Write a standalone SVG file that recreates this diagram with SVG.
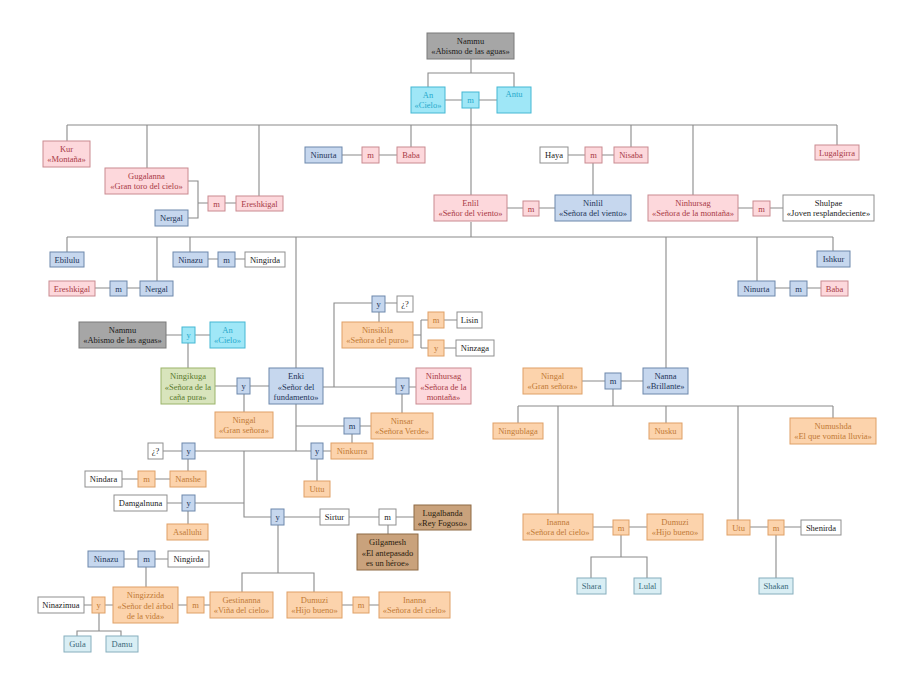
<svg xmlns="http://www.w3.org/2000/svg" width="912" height="684" viewBox="0 0 912 684">
<style>
text{font-family:"Liberation Serif","Times New Roman",serif;font-size:8.5px;text-anchor:middle}
rect{stroke-width:1}
.pk rect{fill:#fdd8dc;stroke:#c98a90}.pk text{fill:#a83a46}
.bl rect{fill:#c6d7ee;stroke:#6d87ab}.bl text{fill:#1e3558}
.cy rect{fill:#9fe7f7;stroke:#45b7d3}.cy text{fill:#27a9cc}
.or rect{fill:#fcd3ac;stroke:#dfa066}.or text{fill:#c17a36}
.wh rect{fill:#fff;stroke:#8f8f8f}.wh text{fill:#222}
.gr rect{fill:#a6a6a6;stroke:#7a7a7a}.gr text{fill:#1a1a1a}
.gn rect{fill:#d8e4bc;stroke:#9bb46a}.gn text{fill:#5a7a2e}
.br rect{fill:#c9a27c;stroke:#8e6a45}.br text{fill:#2a1c0e}
.lb rect{fill:#d9eef4;stroke:#86aebd}.lb text{fill:#3b6a7a}
#connectors path{fill:none;stroke:#8a8a8a;stroke-width:1.1}
</style>
<rect width="912" height="684" fill="#fff"/>
<g id="connectors">
<path d="M471,59V73M428,87V73H514V87M445,100H462M479,100H497M471,108V195"/>
<path d="M67,125H837M67,125V141M147,125V168M259,125V196M411,125V147M631,125V147M693,125V195M837,125V145"/>
<path d="M188,181H198V218H188M198,203H208M225,203H236"/>
<path d="M342,155H362M379,155H397M568,155H585M602,155H614M593,163V195"/>
<path d="M507,208H523M539,208H555M738,208H753M770,208H783M471,222V237"/>
<path d="M67,237H833M67,237V252M157,237V281M190,237V252M296,237V368M666,237V368M757,237V281M833,237V251"/>
<path d="M95,288H110M127,288H140M208,259H218M235,259H245M775,288H790M807,288H821"/>
<path d="M166,335H182M195,335H210M188,343V368M215,386H237M250,386H269M244,394V412"/>
<path d="M323,387H396M334,387V303H372M385,303H397M379,312V322M409,387H416M402,394V413"/>
<path d="M413,335H421M421,320V348M421,320H428M421,348H428M444,320H457M444,348H456"/>
<path d="M296,404V451M296,426H344M360,426H371M352,434V443M195,451H311M323,451H331M317,459V481"/>
<path d="M163,451H182M188,459V471M122,479H138M155,479H170M167,503H182M195,503H244M188,511V524M244,451V517H271"/>
<path d="M284,517H320M349,517H379M396,517H414M388,525V534M278,525V573M242,592V573H314V592M342,605H353M369,605H379"/>
<path d="M178,605H187M204,605H210M124,559H138M155,559H168M146,567V587M84,605H92M105,605H113M99,613V631M77,636V631H121V636"/>
<path d="M582,381H605M621,381H643M613,389V406M518,406H833M518,406V423M558,406V514M666,406V423M738,406V520M833,406V418"/>
<path d="M593,527H613M629,527H647M621,535V557M591,578V557H647V578M750,527H768M784,527H801M776,535V578"/>
</g>
<g id="nammu1" class="gr"><rect x="427" y="33" width="87" height="26"/><text x="470.5" y="44">Nammu</text><text x="470.5" y="54">«Abismo de las  aguas»</text></g>
<g id="an1" class="cy"><rect x="411" y="87" width="34" height="26"/><text x="428" y="98">An</text><text x="428" y="108">«Cielo»</text></g>
<g id="m_an" class="cy"><rect x="462" y="92" width="17" height="16"/><text x="470.5" y="103">m</text></g>
<g id="antu" class="cy"><rect x="497" y="87" width="34" height="26"/><text x="514" y="97">Antu</text></g>
<g id="kur" class="pk"><rect x="43" y="141" width="47" height="26"/><text x="66.5" y="152">Kur</text><text x="66.5" y="162">«Montaña»</text></g>
<g id="gugalanna" class="pk"><rect x="105" y="168" width="83" height="26"/><text x="146.5" y="179">Gugalanna</text><text x="146.5" y="189">«Gran toro del cielo»</text></g>
<g id="nergal1" class="bl"><rect x="155" y="210" width="33" height="16"/><text x="171.5" y="221">Nergal</text></g>
<g id="m_ere" class="pk"><rect x="208" y="196" width="17" height="15"/><text x="216.5" y="206.5">m</text></g>
<g id="ereshkigal1" class="pk"><rect x="236" y="196" width="47" height="15"/><text x="259.5" y="206.5">Ereshkigal</text></g>
<g id="ninurta1" class="bl"><rect x="305" y="147" width="37" height="16"/><text x="323.5" y="158">Ninurta</text></g>
<g id="m_baba1" class="pk"><rect x="362" y="147" width="17" height="16"/><text x="370.5" y="158">m</text></g>
<g id="baba1" class="pk"><rect x="397" y="147" width="28" height="16"/><text x="411" y="158">Baba</text></g>
<g id="haya" class="wh"><rect x="540" y="147" width="28" height="16"/><text x="554" y="158">Haya</text></g>
<g id="m_haya" class="pk"><rect x="585" y="147" width="17" height="16"/><text x="593.5" y="158">m</text></g>
<g id="nisaba" class="pk"><rect x="614" y="147" width="34" height="16"/><text x="631" y="158">Nisaba</text></g>
<g id="lugalgirra" class="pk"><rect x="815" y="145" width="44" height="15"/><text x="837" y="155.5">Lugalgirra</text></g>
<g id="enlil" class="pk"><rect x="434" y="195" width="73" height="26"/><text x="470.5" y="206">Enlil</text><text x="470.5" y="216">«Señor del viento»</text></g>
<g id="m_enlil" class="pk"><rect x="523" y="201" width="16" height="15"/><text x="531" y="211.5">m</text></g>
<g id="ninlil" class="bl"><rect x="555" y="195" width="76" height="26"/><text x="593" y="206">Ninlil</text><text x="593" y="216">«Señora del viento»</text></g>
<g id="ninhursag1" class="pk"><rect x="648" y="195" width="90" height="26"/><text x="693" y="206">Ninhursag</text><text x="693" y="216">«Señora de la  montaña»</text></g>
<g id="m_ninhursag1" class="pk"><rect x="753" y="201" width="17" height="15"/><text x="761.5" y="211.5">m</text></g>
<g id="shulpae" class="wh"><rect x="783" y="195" width="91" height="26"/><text x="828.5" y="206">Shulpae</text><text x="828.5" y="216">«Joven resplandeciente»</text></g>
<g id="ebilulu" class="bl"><rect x="50" y="252" width="34" height="15"/><text x="67" y="262.5">Ebilulu</text></g>
<g id="ereshkigal2" class="pk"><rect x="49" y="281" width="46" height="15"/><text x="72" y="291.5">Ereshkigal</text></g>
<g id="m_nergal2" class="bl"><rect x="110" y="281" width="17" height="15"/><text x="118.5" y="291.5">m</text></g>
<g id="nergal2" class="bl"><rect x="140" y="281" width="33" height="15"/><text x="156.5" y="291.5">Nergal</text></g>
<g id="ninazu1" class="bl"><rect x="173" y="252" width="35" height="15"/><text x="190.5" y="262.5">Ninazu</text></g>
<g id="m_ninazu1" class="bl"><rect x="218" y="252" width="17" height="15"/><text x="226.5" y="262.5">m</text></g>
<g id="ningirda1" class="wh"><rect x="245" y="252" width="40" height="15"/><text x="265" y="262.5">Ningirda</text></g>
<g id="ishkur" class="bl"><rect x="817" y="251" width="33" height="16"/><text x="833.5" y="262">Ishkur</text></g>
<g id="ninurta2" class="bl"><rect x="738" y="281" width="37" height="15"/><text x="756.5" y="291.5">Ninurta</text></g>
<g id="m_ninurta2" class="bl"><rect x="790" y="281" width="17" height="15"/><text x="798.5" y="291.5">m</text></g>
<g id="baba2" class="pk"><rect x="821" y="281" width="27" height="15"/><text x="834.5" y="291.5">Baba</text></g>
<g id="nammu2" class="gr"><rect x="79" y="322" width="87" height="26"/><text x="122.5" y="333">Nammu</text><text x="122.5" y="343">«Abismo de las  aguas»</text></g>
<g id="y_nammu2" class="cy"><rect x="182" y="327" width="13" height="16"/><text x="188.5" y="338">y</text></g>
<g id="an2" class="cy"><rect x="210" y="322" width="35" height="26"/><text x="227.5" y="333">An</text><text x="227.5" y="343">«Cielo»</text></g>
<g id="ningikuga" class="gn"><rect x="161" y="368" width="54" height="36"/><text x="188" y="379">Ningikuga</text><text x="188" y="389.5">«Señora de la</text><text x="188" y="400">caña pura»</text></g>
<g id="y_ningikuga" class="bl"><rect x="237" y="378" width="13" height="16"/><text x="243.5" y="389">y</text></g>
<g id="enki" class="bl"><rect x="269" y="368" width="54" height="36"/><text x="296" y="379">Enki</text><text x="296" y="389.5">«Señor del</text><text x="296" y="400">fundamento»</text></g>
<g id="ningal1" class="or"><rect x="215" y="412" width="58" height="26"/><text x="244" y="423">Ningal</text><text x="244" y="433">«Gran señora»</text></g>
<g id="y_q1" class="bl"><rect x="372" y="296" width="13" height="16"/><text x="378.5" y="307">y</text></g>
<g id="q1" class="wh"><rect x="397" y="296" width="16" height="16"/><text x="405" y="307">¿?</text></g>
<g id="ninsikila" class="or"><rect x="342" y="322" width="71" height="26"/><text x="377.5" y="333">Ninsikila</text><text x="377.5" y="343">«Señora del puro»</text></g>
<g id="m_lisin" class="or"><rect x="428" y="312" width="16" height="16"/><text x="436" y="323">m</text></g>
<g id="lisin" class="wh"><rect x="457" y="312" width="25" height="16"/><text x="469.5" y="323">Lisin</text></g>
<g id="y_ninzaga" class="or"><rect x="428" y="340" width="16" height="16"/><text x="436" y="351">y</text></g>
<g id="ninzaga" class="wh"><rect x="456" y="340" width="38" height="16"/><text x="475" y="351">Ninzaga</text></g>
<g id="y_ninhursag2" class="bl"><rect x="396" y="378" width="13" height="16"/><text x="402.5" y="389">y</text></g>
<g id="ninhursag2" class="pk"><rect x="416" y="368" width="55" height="36"/><text x="443.5" y="379">Ninhursag</text><text x="443.5" y="389.5">«Señora de la</text><text x="443.5" y="400">montaña»</text></g>
<g id="m_ninsar" class="bl"><rect x="344" y="418" width="16" height="16"/><text x="352" y="429">m</text></g>
<g id="ninsar" class="or"><rect x="371" y="413" width="62" height="26"/><text x="402" y="424">Ninsar</text><text x="402" y="434">«Señora Verde»</text></g>
<g id="y_ninkurra" class="bl"><rect x="311" y="443" width="12" height="16"/><text x="317" y="454">y</text></g>
<g id="ninkurra" class="or"><rect x="331" y="443" width="42" height="16"/><text x="352" y="454">Ninkurra</text></g>
<g id="uttu" class="or"><rect x="304" y="481" width="26" height="16"/><text x="317" y="492">Uttu</text></g>
<g id="q2" class="wh"><rect x="148" y="443" width="15" height="16"/><text x="155.5" y="454">¿?</text></g>
<g id="y_nanshe" class="bl"><rect x="182" y="443" width="13" height="16"/><text x="188.5" y="454">y</text></g>
<g id="nindara" class="wh"><rect x="85" y="471" width="37" height="16"/><text x="103.5" y="482">Nindara</text></g>
<g id="m_nanshe" class="or"><rect x="138" y="471" width="17" height="16"/><text x="146.5" y="482">m</text></g>
<g id="nanshe" class="or"><rect x="170" y="471" width="36" height="16"/><text x="188" y="482">Nanshe</text></g>
<g id="damgalnuna" class="wh"><rect x="114" y="495" width="53" height="16"/><text x="140.5" y="506">Damgalnuna</text></g>
<g id="y_asalluhi" class="bl"><rect x="182" y="495" width="13" height="16"/><text x="188.5" y="506">y</text></g>
<g id="asalluhi" class="or"><rect x="167" y="524" width="41" height="16"/><text x="187.5" y="535">Asalluhi</text></g>
<g id="y_sirtur" class="bl"><rect x="271" y="509" width="13" height="16"/><text x="277.5" y="520">y</text></g>
<g id="sirtur" class="wh"><rect x="320" y="509" width="29" height="16"/><text x="334.5" y="520">Sirtur</text></g>
<g id="m_sirtur" class="wh"><rect x="379" y="509" width="17" height="16"/><text x="387.5" y="520">m</text></g>
<g id="lugalbanda" class="br"><rect x="414" y="505" width="57" height="25"/><text x="442.5" y="515.5">Lugalbanda</text><text x="442.5" y="525.5">«Rey Fogoso»</text></g>
<g id="gilgamesh" class="br"><rect x="357" y="534" width="61" height="36"/><text x="387.5" y="545">Gilgamesh</text><text x="387.5" y="555.5">«El antepasado</text><text x="387.5" y="566">es un héroe»</text></g>
<g id="gestinanna" class="or"><rect x="210" y="592" width="63" height="26"/><text x="241.5" y="603">Gestinanna</text><text x="241.5" y="613">«Viña del cielo»</text></g>
<g id="dumuzi1" class="or"><rect x="287" y="592" width="55" height="26"/><text x="314.5" y="603">Dumuzi</text><text x="314.5" y="613">«Hijo bueno»</text></g>
<g id="m_inanna1" class="or"><rect x="353" y="597" width="16" height="16"/><text x="361" y="608">m</text></g>
<g id="inanna1" class="or"><rect x="379" y="592" width="71" height="26"/><text x="414.5" y="603">Inanna</text><text x="414.5" y="613">«Señora del cielo»</text></g>
<g id="ninazu2" class="bl"><rect x="88" y="551" width="36" height="16"/><text x="106" y="562">Ninazu</text></g>
<g id="m_ninazu2" class="bl"><rect x="138" y="551" width="17" height="16"/><text x="146.5" y="562">m</text></g>
<g id="ningirda2" class="wh"><rect x="168" y="551" width="41" height="16"/><text x="188.5" y="562">Ningirda</text></g>
<g id="ningizzida" class="or"><rect x="113" y="587" width="65" height="36"/><text x="145.5" y="598">Ningizzida</text><text x="145.5" y="608.5">«Señor del árbol</text><text x="145.5" y="619">de la vida»</text></g>
<g id="m_gestinanna" class="or"><rect x="187" y="597" width="17" height="16"/><text x="195.5" y="608">m</text></g>
<g id="y_ningizzida" class="or"><rect x="92" y="597" width="13" height="16"/><text x="98.5" y="608">y</text></g>
<g id="ninazimua" class="wh"><rect x="38" y="597" width="46" height="16"/><text x="61" y="608">Ninazimua</text></g>
<g id="gula" class="lb"><rect x="64" y="636" width="27" height="16"/><text x="77.5" y="647">Gula</text></g>
<g id="damu" class="lb"><rect x="106" y="636" width="32" height="16"/><text x="122" y="647">Damu</text></g>
<g id="ningal2" class="or"><rect x="523" y="368" width="59" height="26"/><text x="552.5" y="379">Ningal</text><text x="552.5" y="389">«Gran señora»</text></g>
<g id="m_nanna" class="bl"><rect x="605" y="373" width="16" height="16"/><text x="613" y="384">m</text></g>
<g id="nanna" class="bl"><rect x="643" y="368" width="45" height="26"/><text x="665.5" y="379">Nanna</text><text x="665.5" y="389">«Brillante»</text></g>
<g id="ningublaga" class="or"><rect x="493" y="423" width="50" height="16"/><text x="518" y="434">Ningublaga</text></g>
<g id="nusku" class="or"><rect x="649" y="423" width="33" height="16"/><text x="665.5" y="434">Nusku</text></g>
<g id="numushda" class="or"><rect x="790" y="418" width="86" height="26"/><text x="833" y="429">Numushda</text><text x="833" y="439">«El que vomita lluvia»</text></g>
<g id="inanna2" class="or"><rect x="523" y="514" width="70" height="26"/><text x="558" y="525">Inanna</text><text x="558" y="535">«Señora del cielo»</text></g>
<g id="m_inanna2" class="or"><rect x="613" y="520" width="16" height="15"/><text x="621" y="530.5">m</text></g>
<g id="dumuzi2" class="or"><rect x="647" y="514" width="56" height="26"/><text x="675" y="525">Dumuzi</text><text x="675" y="535">«Hijo bueno»</text></g>
<g id="shara" class="lb"><rect x="577" y="578" width="29" height="16"/><text x="591.5" y="589">Shara</text></g>
<g id="lulal" class="lb"><rect x="634" y="578" width="27" height="16"/><text x="647.5" y="589">Lulal</text></g>
<g id="utu" class="or"><rect x="727" y="520" width="23" height="15"/><text x="738.5" y="530.5">Utu</text></g>
<g id="m_utu" class="or"><rect x="768" y="520" width="16" height="15"/><text x="776" y="530.5">m</text></g>
<g id="shenirda" class="wh"><rect x="801" y="520" width="40" height="15"/><text x="821" y="530.5">Shenirda</text></g>
<g id="shakan" class="lb"><rect x="759" y="578" width="34" height="16"/><text x="776" y="589">Shakan</text></g>
</svg>
